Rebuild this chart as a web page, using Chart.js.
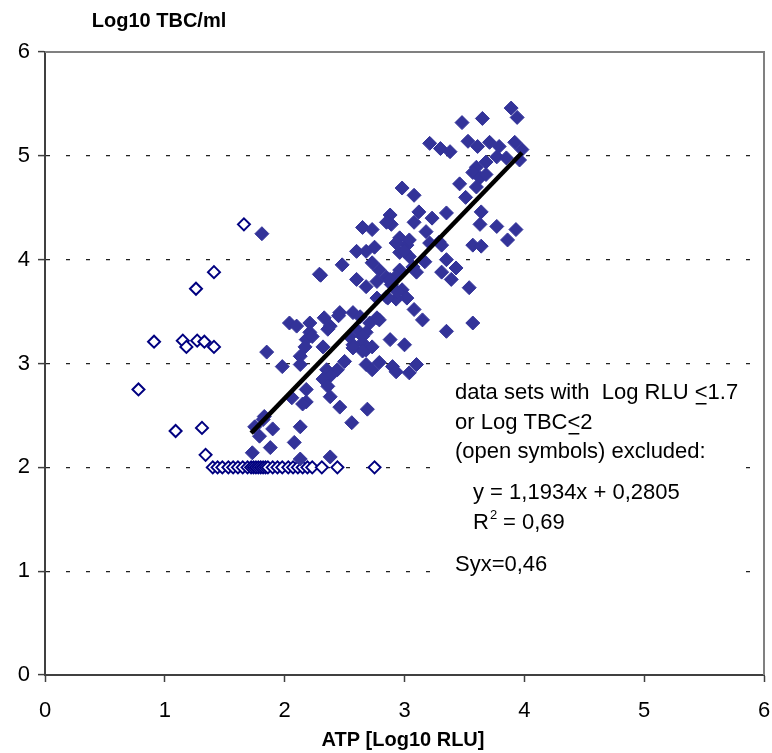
<!DOCTYPE html>
<html>
<head>
<meta charset="utf-8">
<script src="https://cdn.jsdelivr.net/npm/chart.js@4"></script>
<style>
  html, body { margin: 0; padding: 0; background: #fff; overflow: hidden; }
  canvas { display: block; }
</style>
</head>
<body>
<canvas id="chart" width="772" height="753"></canvas>
<script>
// filled symbols: data sets used for the regression
const filledX = [3.89,3.94,3.48,3.65,3.21,3.30,3.38,3.53,3.61,3.71,3.79,3.92,3.98,3.77,3.85,3.96,3.68,3.60,3.57,3.63,
  3.68,3.60,3.46,3.51,2.98,3.08,3.12,2.88,3.08,3.23,3.35,3.64,3.63,3.77,3.93,3.86,2.89,3.18,3.29,2.96,
  3.02,2.96,3.04,3.17,3.31,3.57,3.64,3.35,3.43,3.31,3.39,3.54,3.08,3.15,3.57,3.35,2.96,2.98,3.02,2.65,
  2.73,2.60,2.68,2.75,2.93,2.48,2.29,2.73,2.79,3.10,2.60,2.68,2.77,2.93,2.89,2.85,1.81,2.85,2.93,2.77,
  2.46,2.57,2.63,2.04,2.10,2.21,2.33,2.38,2.21,2.18,2.71,2.77,2.60,2.68,2.65,2.57,2.68,2.88,3.00,1.85,
  2.13,1.98,2.13,2.50,2.44,2.35,2.38,2.32,2.36,2.68,2.73,2.90,2.93,3.10,3.04,2.18,2.38,2.18,2.06,2.46,
  2.69,2.56,2.13,1.90,1.75,1.83,1.79,2.08,1.88,1.73,2.38,2.13,2.79,2.30,2.85,2.86,2.45,2.79,2.23,2.36,
  2.54,2.65,2.17,2.73,2.32,2.57,2.65,1.82,2.15,3.04,3.00,3.21,2.88,2.94,3.07];
const filledY = [5.46,5.37,5.32,5.36,5.12,5.07,5.04,5.14,5.09,5.13,5.09,5.13,5.06,4.99,4.98,4.96,4.94,4.89,4.84,4.79,
  4.82,4.70,4.73,4.60,4.69,4.62,4.46,4.43,4.36,4.40,4.45,4.46,4.34,4.32,4.29,4.19,4.34,4.27,4.17,4.21,
  4.14,4.07,4.03,3.98,4.14,4.14,4.13,4.00,3.92,3.88,3.81,3.73,3.52,3.42,3.39,3.31,3.90,3.71,3.63,4.31,
  4.29,4.08,4.08,4.12,4.16,3.95,3.86,3.97,3.90,3.88,3.81,3.74,3.79,3.84,3.76,3.64,4.25,4.36,3.62,3.63,
  3.49,3.49,3.45,3.39,3.36,3.39,3.44,3.36,3.30,3.23,3.39,3.44,3.33,3.30,3.20,3.18,3.13,3.23,3.18,3.11,
  3.07,2.97,2.99,3.02,2.94,2.94,2.88,2.85,2.78,2.99,2.94,2.97,2.92,2.99,2.91,2.75,2.68,2.63,2.67,2.58,
  2.56,2.43,2.39,2.37,2.39,2.49,2.30,2.24,2.19,2.14,2.10,2.08,3.01,3.85,3.83,3.63,3.46,3.42,3.26,3.33,
  3.26,3.26,3.16,3.16,3.16,3.15,3.12,2.46,2.61,4.19,4.08,4.16,3.81,3.69,3.93];

// open symbols: excluded data sets
const openX = [0.78,0.91,1.09,1.15,1.18,1.26,1.27,1.31,1.33,1.34,1.41,1.41,1.66,
  1.40,1.44,1.48,1.53,1.57,1.61,1.65,1.69,1.72,1.74,1.76,1.78,1.80,1.82,1.84,1.86,1.90,1.94,1.98,
  2.03,2.07,2.11,2.15,2.19,2.23,2.31,2.44,2.75];
const openY = [2.75,3.21,2.35,3.22,3.16,3.72,3.22,2.38,3.21,2.12,3.88,3.16,4.34,
  2,2,2,2,2,2,2,2,2,2,2,2,2,2,2,2,2,2,2,
  2,2,2,2,2,2,2,2,2];

// regression line ends
const trendX = [1.72, 3.98];
const trendY = [2.33, 5.03];

const xTicks = [0, 1, 2, 3, 4, 5, 6];
const yTicks = [0, 1, 2, 3, 4, 5, 6];

const toPoints = (xs, ys) => xs.map((x, i) => ({x: x, y: ys[i]}));

const FONT = "'Liberation Sans', Arial, sans-serif";

// frame, axis titles and the note box text
const extras = {
  id: 'extras',
  afterDraw(chart) {
    const ctx = chart.ctx;
    const a = chart.chartArea;
    ctx.save();
    ctx.strokeStyle = '#808080';
    ctx.lineWidth = 2;
    ctx.beginPath();
    ctx.moveTo(a.left, a.top);
    ctx.lineTo(a.right, a.top);
    ctx.lineTo(a.right, a.bottom);
    ctx.stroke();

    // white note box over the grid
    ctx.fillStyle = '#fff';
    ctx.fillRect(446, 373, 298, 208);

    ctx.fillStyle = '#000';
    ctx.textBaseline = 'middle';
    ctx.textAlign = 'center';
    ctx.font = 'bold 20px ' + FONT;
    ctx.fillText('Log10 TBC/ml', 159, 21);
    ctx.fillText('ATP [Log10 RLU]', 403, 740);

    ctx.textAlign = 'left';
    ctx.font = '22px ' + FONT;
    // line 1 with underlined "<"
    let x = 455, y = 393;
    let s = 'data sets with  Log RLU ';
    ctx.fillText(s, x, y);
    x += ctx.measureText(s).width;
    let w = ctx.measureText('<').width;
    ctx.fillText('<', x, y);
    ctx.fillRect(x + 1, y + 10, w - 2, 1.5);
    ctx.fillText('1.7', x + w, y);
    // line 2
    x = 455; y = 423;
    s = 'or Log TBC';
    ctx.fillText(s, x, y);
    x += ctx.measureText(s).width;
    ctx.fillText('<', x, y);
    ctx.fillRect(x + 1, y + 10, w - 2, 1.5);
    ctx.fillText('2', x + w, y);
    ctx.fillText('(open symbols) excluded:', 455, 452);
    ctx.fillText('y = 1,1934x + 0,2805', 473, 493);
    ctx.fillText('R', 473, 523);
    const rw = ctx.measureText('R').width;
    ctx.font = '13px ' + FONT;
    ctx.fillText('2', 473 + rw + 1, 515);
    ctx.font = '22px ' + FONT;
    ctx.fillText(' = 0,69', 473 + rw + 8, 523);
    ctx.fillText('Syx=0,46', 455, 565);
    ctx.restore();
  }
};

new Chart(document.getElementById('chart'), {
  type: 'scatter',
  data: {
    datasets: [
      {
        type: 'line',
        data: toPoints(trendX, trendY),
        borderColor: '#000',
        borderWidth: 4.5,
        pointRadius: 0,
        fill: false,
        order: 0
      },
      {
        data: toPoints(filledX, filledY),
        pointStyle: 'rectRot',
        pointRadius: 7,
        pointHoverRadius: 7,
        backgroundColor: '#333399',
        borderColor: '#333399',
        borderWidth: 1,
        order: 1
      },
      {
        data: toPoints(openX, openY),
        pointStyle: 'rectRot',
        pointRadius: 6,
        pointHoverRadius: 6,
        backgroundColor: '#ffffff',
        borderColor: '#000080',
        borderWidth: 2,
        order: 2
      }
    ]
  },
  plugins: [extras],
  options: {
    responsive: false,
    animation: false,
    events: [],
    layout: { padding: { left: 0, right: 7, top: 52, bottom: 0 } },
    plugins: { legend: { display: false }, tooltip: { enabled: false } },
    scales: {
      x: {
        type: 'linear',
        min: 0, max: 6,
        afterBuildTicks: (scale) => { scale.ticks = xTicks.map(v => ({value: v})); },
        afterFit: (scale) => { scale.height = 78; scale.paddingLeft = 0; scale.paddingRight = 0; },
        ticks: { color: '#000', padding: 16, font: { family: FONT, size: 22 }, maxRotation: 0 },
        grid: { drawOnChartArea: false, drawTicks: true, tickLength: 7, tickColor: '#404040', tickWidth: 1.5 },
        border: { color: '#404040', width: 2 }
      },
      y: {
        type: 'linear',
        min: 0, max: 6,
        afterBuildTicks: (scale) => { scale.ticks = yTicks.map(v => ({value: v})); },
        afterFit: (scale) => { scale.width = 45; scale.paddingTop = 0; scale.paddingBottom = 0; },
        ticks: { color: '#000', padding: 8, font: { family: FONT, size: 22 } },
        grid: {
          drawTicks: true,
          tickLength: 7,
          tickColor: '#404040',
          tickWidth: 1.5,
          lineWidth: 1.2,
          color: (c) => (c.tick && (c.tick.value === 0 || c.tick.value === 6)) ? 'rgba(0,0,0,0)' : '#222'
        },
        border: { color: '#404040', width: 2, dash: [4, 16] }
      }
    }
  }
});
</script>
</body>
</html>
